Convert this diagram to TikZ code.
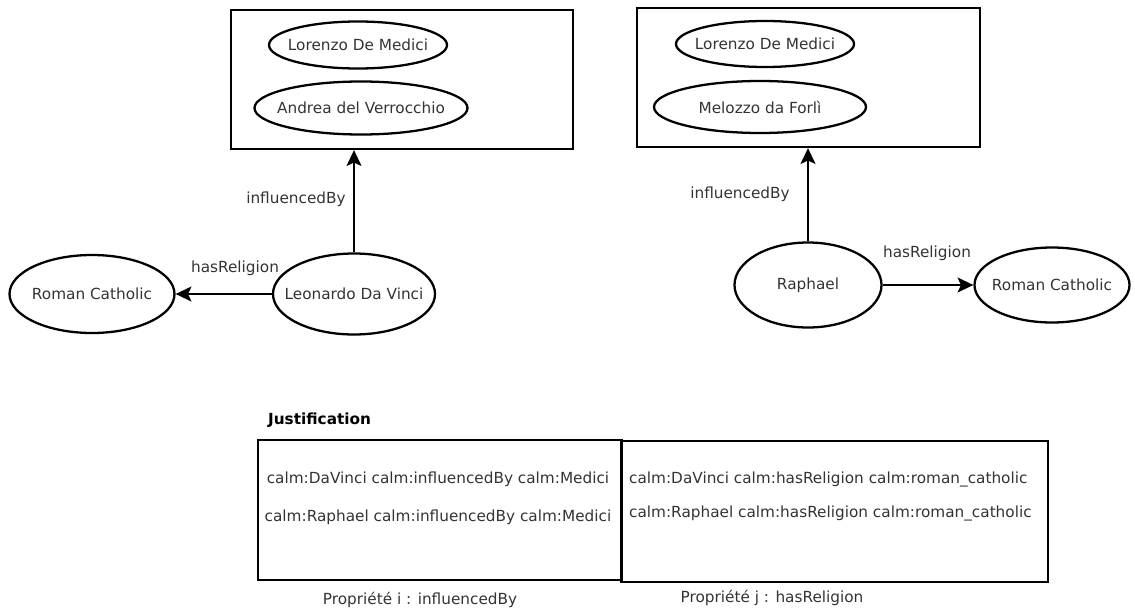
\documentclass[tikz,border=0pt]{standalone}
\usepackage{fontspec}
\setmainfont{DejaVu Sans}
\usepackage{tikz}
\usetikzlibrary{arrows.meta,positioning,shapes.geometric}

\begin{document}
\begin{tikzpicture}[font=\fontsize{8.7}{10}\selectfont,>={Stealth[length=9pt,width=8.5pt,inset=2pt]},line width=1.3pt,
 ent/.style={ellipse,draw,inner ysep=0pt,inner xsep=-.3cm,text=black!80},
 grp/.style={rectangle,draw,inner sep=0pt},
 lbl/.style={inner sep=0pt,text=black!80}]
\useasboundingbox (0,0) rectangle (22.7,12.2);
% Leonardo side
\node[grp,minimum width=6.84cm,minimum height=2.78cm] (boxL) at (8.04,10.61) {};
\node[ent,minimum width=3.56cm,minimum height=.94cm] (medL) at (7.16,11.30) {Lorenzo De Medici};
\node[ent,minimum width=4.26cm,minimum height=1.06cm] (verr) at (7.22,10.04) {Andrea del Verrocchio};
\node[ent,minimum width=3.24cm,minimum height=1.62cm] (leo) at (7.08,6.32) {Leonardo Da Vinci};
\node[ent,minimum width=3.3cm,minimum height=1.56cm] (romL) at (1.84,6.32) {Roman Catholic};
\draw[->] (leo.north) -- (leo.north |- boxL.south);
\draw[->] (leo.west) -- (romL.east);
\node[lbl] (infL) at (5.92,8.22) {influencedBy};
\node[lbl] (relL) at (4.7,6.84) {hasReligion};
% Raphael side
\node[grp,minimum width=6.86cm,minimum height=2.78cm] (boxR) at (16.17,10.65) {};
\node[ent,minimum width=3.56cm,minimum height=.92cm] (medR) at (15.3,11.32) {Lorenzo De Medici};
\node[ent,minimum width=4.24cm,minimum height=1.04cm] (mel) at (15.2,10.06) {Melozzo da Forlì};
\node[ent,minimum width=2.94cm,minimum height=1.7cm] (raph) at (16.16,6.5) {Raphael};
\node[ent,minimum width=3.1cm,minimum height=1.5cm] (romR) at (21.04,6.5) {Roman Catholic};
\draw[->] (raph.north) -- (raph.north |- boxR.south);
\draw[->] (raph.east) -- (romR.west);
\node[lbl] (infR) at (14.8,8.32) {influencedBy};
\node[lbl] (relR) at (18.54,7.14) {hasReligion};
% justification
\node[lbl,anchor=west,text=black,font=\fontsize{8.7}{10}\selectfont\bfseries] (just) at (5.34,3.8) {Justification};
\node[grp,minimum width=7.28cm,minimum height=2.8cm] (jl) at (8.8,2.0) {};
\node[grp,minimum width=8.54cm,minimum height=2.82cm] (jr) at (16.69,1.97) {};
\node[lbl] (jl1) at (8.76,2.62) {calm:DaVinci calm:influencedBy calm:Medici};
\node[lbl] (jl2) at (8.76,1.86) {calm:Raphael calm:influencedBy calm:Medici};
\node[lbl,anchor=west] (jr1) at (12.56,2.62) {calm:DaVinci calm:hasReligion calm:roman\_catholic};
\node[lbl,anchor=west] (jr2) at (12.56,1.94) {calm:Raphael calm:hasReligion calm:roman\_catholic};
\node[lbl] (propi) at (8.4,0.2) {Propriété i : influencedBy};
\node[lbl] (propj) at (15.44,0.24) {Propriété j : hasReligion};
\end{tikzpicture}
\end{document}
